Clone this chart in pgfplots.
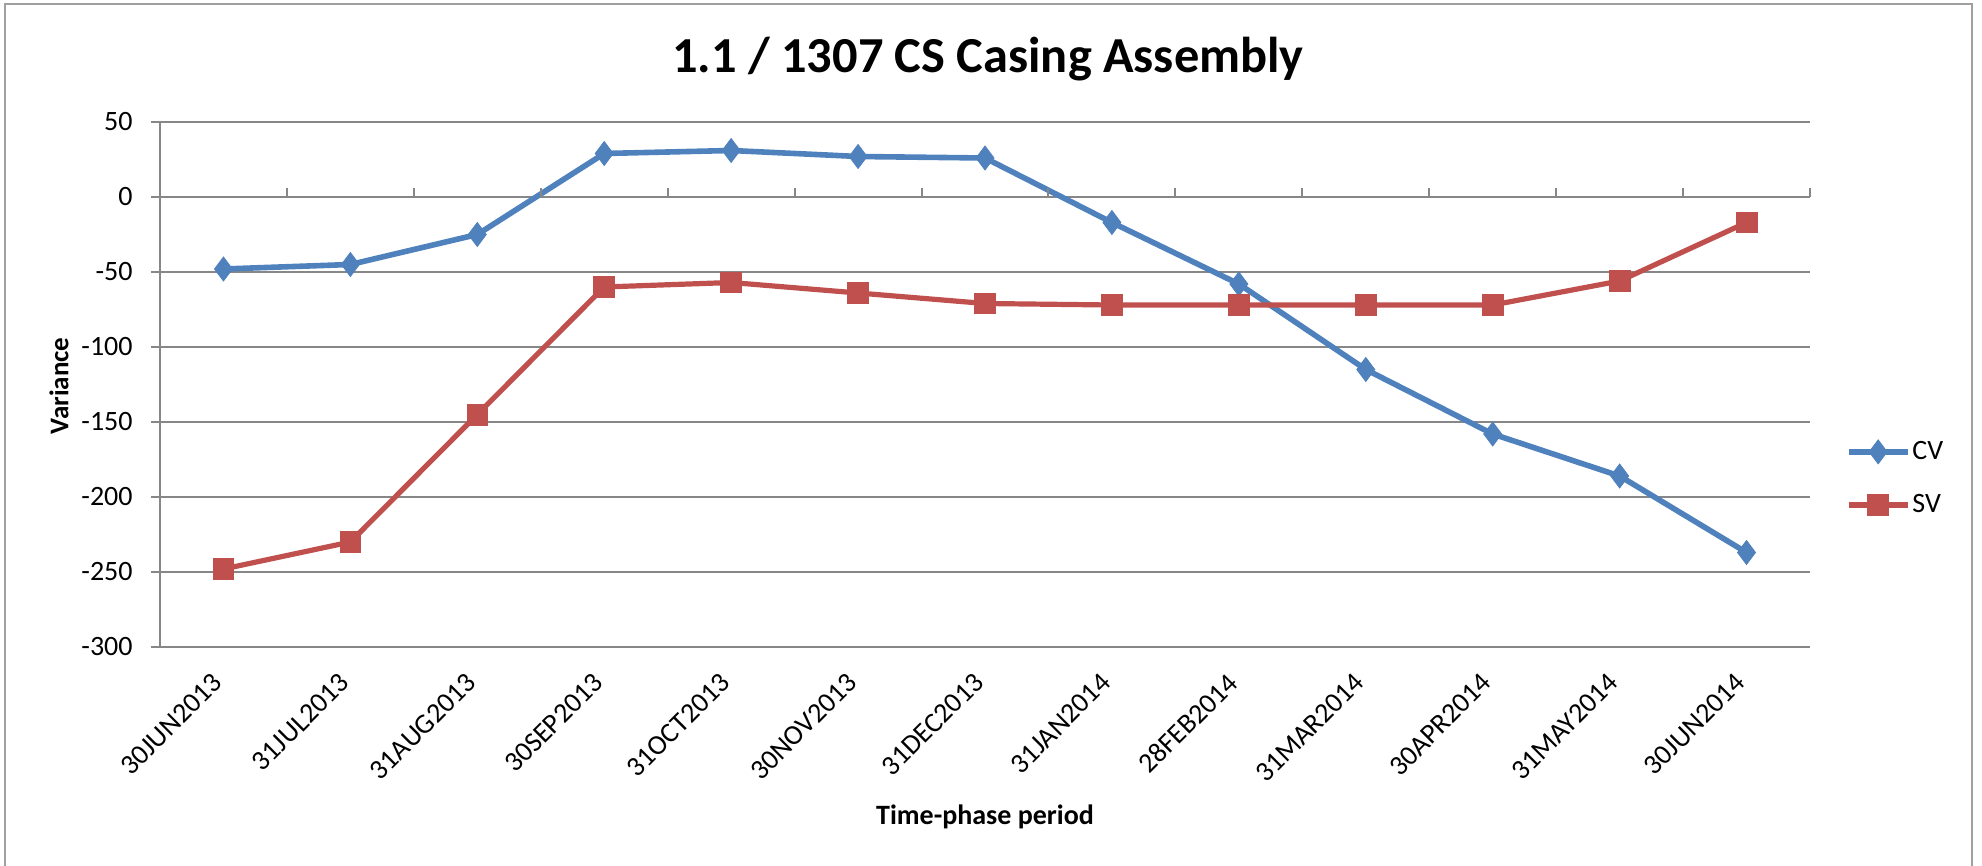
\documentclass[border=0pt]{standalone}
\usepackage{fontspec}
\setmainfont{Carlito}
\usepackage{pgfplots}
\pgfplotsset{compat=1.18}
\definecolor{cvblue}{HTML}{4F81BD}
\definecolor{svred}{HTML}{C0504D}
\definecolor{gridgray}{HTML}{878787}
\definecolor{framegray}{HTML}{A0A0A0}
\begin{document}
\begin{tikzpicture}
\begin{axis}[
  at={(0,0)}, anchor=south west,
  scale only axis, width=825bp, height=262.5bp,
  xmin=-0.5, xmax=12.5, ymin=-300, ymax=50,
  axis line style={draw=none},
  xtick={0,...,12},
  xticklabels={30JUN2013,31JUL2013,31AUG2013,30SEP2013,31OCT2013,30NOV2013,31DEC2013,31JAN2014,28FEB2014,31MAR2014,30APR2014,31MAY2014,30JUN2014},
  x tick label style={xshift=-3bp, yshift=-11bp, rotate=45, anchor=east, inner sep=0pt, font=\fontsize{14bp}{16bp}\selectfont},
  major x tick style={draw=none},
  ytick={-300,-250,...,50},
  ytick pos=left,
  y tick label style={font=\fontsize{14bp}{16bp}\selectfont, inner sep=0pt, xshift=-9bp},
  major y tick style={draw=gridgray, line width=1bp},
  tick align=outside,
  major tick length=4.5bp,
  ymajorgrids,
  major grid style={draw=gridgray, line width=1bp},
  /pgf/number format/assume math mode=true,
  legend style={at={(1.0215,0.321)}, anchor=west, draw=none, fill=none, inner sep=0pt,
    font=\fontsize{14bp}{16bp}\selectfont, row sep=14bp, nodes={inner sep=1bp}},
  legend cell align=left,
  legend image code/.code={\draw[mark repeat=2,mark phase=2] plot coordinates {(0bp,0bp) (14.75bp,0bp) (29.5bp,0bp)};},
  clip=false,
]
\addplot[cvblue, line width=2.8bp, mark=diamond*, mark size=6bp, mark options={solid, line width=0.4bp, fill=cvblue}]
  coordinates {(0,-48) (1,-45) (2,-25) (3,29) (4,31) (5,27) (6,26) (7,-17) (8,-58) (9,-115) (10,-158) (11,-186) (12,-237)};
\addlegendentry{CV}
\addplot[svred, line width=2.6bp, mark=square*, mark size=5.2bp, mark options={solid, line width=0.4bp, fill=svred}]
  coordinates {(0,-248) (1,-230) (2,-145) (3,-60) (4,-57) (5,-64) (6,-71) (7,-72) (8,-72) (9,-72) (10,-72) (11,-56) (12,-17)};
\addlegendentry{SV}
\draw[gridgray, line width=1bp] (axis cs:-0.5,-300) -- (axis cs:-0.5,50);
\pgfplotsinvokeforeach{0.5,1.5,2.5,3.5,4.5,5.5,6.5,7.5,8.5,9.5,10.5,11.5,12.5}{\draw[gridgray, line width=1bp] (axis cs:#1,0) -- ([yshift=4.5bp]axis cs:#1,0);}
\end{axis}
\node[anchor=base, font=\fontsize{25.2bp}{29bp}\selectfont\bfseries] at (414bp,287bp) {1.1 / 1307 CS Casing Assembly};
\node[rotate=90, font=\fontsize{13.5bp}{15bp}\selectfont\bfseries] at (-50.5bp,130.5bp) {Variance};
\node[font=\fontsize{14bp}{16bp}\selectfont\bfseries] at (412.5bp,-85bp) {Time-phase period};
\draw[framegray, line width=1bp] (-77.5bp,-115bp) -- (-77.5bp,321.5bp) -- (906bp,321.5bp) -- (906bp,-115bp);
\pgfresetboundingbox
\path[use as bounding box] (-80bp,-109.5bp) rectangle (911bp,323.5bp);
\end{tikzpicture}
\end{document}
